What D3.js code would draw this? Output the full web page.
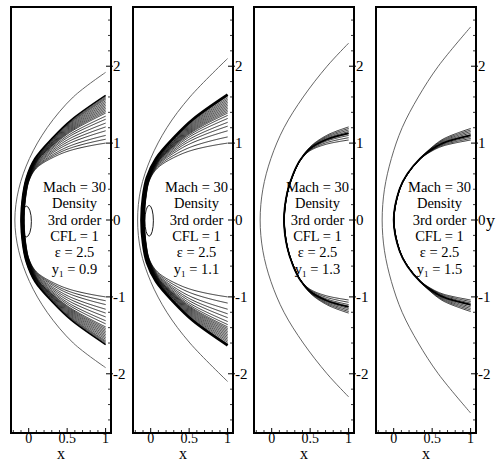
<!DOCTYPE html>
<html><head><meta charset="utf-8">
<script src="https://cdn.jsdelivr.net/npm/d3@7"></script>
<style>body{margin:0;background:#fff} text{font-family:"Liberation Serif","Times New Roman","DejaVu Serif",serif;}</style>
</head><body><svg id="c" width="496" height="464" xmlns="http://www.w3.org/2000/svg"></svg>
<script>
// ---------------- data ----------------
const y1Labels = ["0.9", "1.1", "1.3", "1.5"];
const annotationLines = ["Mach = 30", "Density", "3rd order", "CFL = 1", "\u03b5 = 2.5"];
const xTicks = [0, 0.5, 1];
const xTickLabels = ["0", "0.5", "1"];
const xMinorTicks = [-0.2, -0.1, 0.1, 0.2, 0.3, 0.4, 0.6, 0.7, 0.8, 0.9];
const yTicks = [-2, -1, 0, 1, 2];
const yTickLabels = ["-2", "-1", "0", "1", "2"];
const yMinorTicks = [-2.6,-2.4,-2.2,-1.8,-1.6,-1.4,-1.2,-0.8,-0.6,-0.4,-0.2,0.2,0.4,0.6,0.8,1.2,1.4,1.6,1.8,2.2,2.4,2.6];

// outer thin curve, upper half [x, y]
const outerP1 = [[-0.18,0],[-0.13,0.4],[0.01,0.8],[0.24,1.2],[0.58,1.6],[1.0,1.92]];
const outerP2 = [[-0.17,0],[-0.13,0.4],[0.0,0.8],[0.21,1.2],[0.51,1.6],[1.0,2.1]];
const outerP3 = [[-0.15,0],[-0.115,0.4],[-0.01,0.8],[0.16,1.2],[0.41,1.6],[0.72,2.0],[1.0,2.3]];
const outerP4 = [[-0.15,0],[-0.12,0.4],[-0.03,0.8],[0.11,1.2],[0.32,1.6],[0.58,2.0],[1.0,2.51]];

// main (shock / thick) curve, upper half [x, y]
const shockP1 = [[-0.10,0],[-0.08,0.3],[-0.03,0.55],[0.08,0.8],[0.32,1.08],[0.55,1.3],[1.0,1.62]];
const shockP2 = [[-0.12,0],[-0.10,0.3],[-0.05,0.55],[0.07,0.8],[0.31,1.08],[0.55,1.31],[1.0,1.63]];
const shockP3 = [[0.16,0],[0.20,0.35],[0.28,0.6],[0.37,0.78],[0.50,0.93],[0.72,1.05],[1.0,1.13]];
const shockP4 = [[0.0,0],[0.075,0.4],[0.178,0.6],[0.345,0.8],[0.468,0.9],[0.642,1.0],[1.0,1.1]];

// y where each density contour leaves the right edge (x = 1)
const endsP1 = [1.60,1.585,1.57,1.55,1.53,1.51,1.49,1.47,1.45,1.43,1.41,1.39,1.35,1.31,1.26,1.21,1.16,1.10,1.05,1.0];
const endsP2 = [1.61,1.59,1.57,1.55,1.53,1.51,1.49,1.47,1.45,1.43,1.41,1.39,1.36,1.32,1.27,1.22,1.16,1.08,1.0];
const endsP3 = [1.21,1.19,1.17,1.15,1.12,1.10,1.07,1.04];
const endsP4 = [1.19,1.17,1.15,1.13,1.11,1.08,1.06,1.04];

// small closed contour near the nose [cx, cy, rx, ry] (panels 1,2)
const ovalP1 = [-0.03, -0.02, 0.065, 0.2];
const ovalP2 = [-0.02, -0.01, 0.055, 0.2];

const outers = [outerP1, outerP2, outerP3, outerP4];
const shocks = [shockP1, shockP2, shockP3, shockP4];
const ends = [endsP1, endsP2, endsP3, endsP4];
const ovals = [ovalP1, ovalP2, null, null];
const fanStart = [0.26, 0.26, 0.7, 0.7];
const fanPow = [1.6, 1.6, 1.5, 1.5];
const noseSpread = [0.16, 0.16, 0.05, 0.05];
const shockWidth = [1.6, 2.6, 1.8, 1.8];

// ---------------- layout ----------------
const panelLeft = [11, 133, 254, 376];
const panelW = 100, frameTop = 7, frameBottom = 433;
const xDomain = [-0.23, 1.07], yDomain = [-2.77, 2.77];

const svg = d3.select("#c");
svg.append("rect").attr("width",496).attr("height",464).attr("fill","#fff");

const full = pts => {
  const up = pts.map(d => [d[0], d[1]]);
  const lo = pts.slice(1).map(d => [d[0], -d[1]]).reverse();
  return lo.concat(up);
};

panelLeft.forEach((L, p) => {
  const x = d3.scaleLinear().domain(xDomain).range([L, L + panelW]);
  const y = d3.scaleLinear().domain(yDomain).range([frameBottom, frameTop]);
  const g = svg.append("g");
  const clipId = "clip" + p;
  svg.append("clipPath").attr("id", clipId).append("rect")
    .attr("x", L).attr("y", frameTop).attr("width", panelW).attr("height", frameBottom - frameTop);
  const gc = g.append("g").attr("clip-path", `url(#${clipId})`);

  const line = d3.line().x(d => x(d[0])).y(d => y(d[1])).curve(d3.curveCatmullRom.alpha(0.5));

  // outer thin curve
  gc.append("path").attr("d", line(full(outers[p])))
    .attr("fill","none").attr("stroke","#555").attr("stroke-width",0.9);

  // main curve, sampled to build the contour family
  const sPath = gc.append("path").attr("d", line(full(shocks[p])))
    .attr("fill","none").attr("stroke","#000").attr("stroke-width", shockWidth[p]);
  const node = sPath.node();
  const len = node.getTotalLength();
  const N = 260;
  const samples = d3.range(N + 1).map(i => {
    const pt = node.getPointAtLength(len * i / N);
    return [pt.x, pt.y];
  });
  const yEnd = shocks[p][shocks[p].length - 1][1];
  const contourLine = d3.line().curve(d3.curveLinear);

  ends[p].forEach((e, i) => {
    const pts = samples.map((s, k) => {
      const a = samples[Math.max(0, k - 1)], b = samples[Math.min(N, k + 1)];
      let tx = b[0] - a[0], ty = b[1] - a[1];
      const tl = Math.hypot(tx, ty) || 1; tx /= tl; ty /= tl;
      const nx = -ty, ny = tx;
      const ys = y.invert(s[1]);
      const t = Math.min(1, Math.abs(ys) / yEnd);
      const w = Math.pow(Math.max(0, (t - fanStart[p]) / (1 - fanStart[p])), fanPow[p]);
      const sign = ys >= 0 ? 1 : -1;
      const shift = y(sign * e) - y(sign * yEnd);
      const b0 = noseSpread[p] * (i + 1) * (1 - w);
      return [s[0] + b0 * nx, s[1] + b0 * ny + w * shift];
    });
    gc.append("path").attr("d", contourLine(pts))
      .attr("fill","none").attr("stroke","#000").attr("stroke-width",0.8);
  });

  if (ovals[p]) {
    const o = ovals[p];
    gc.append("ellipse").attr("cx", x(o[0])).attr("cy", y(o[1]))
      .attr("rx", x(o[2]) - x(0)).attr("ry", y(0) - y(o[3]))
      .attr("fill","none").attr("stroke","#000").attr("stroke-width",0.9);
  }

  // annotation
  const tx = L + 63.5;
  const base0 = 192, step = 16.3;
  annotationLines.forEach((s, i) => {
    g.append("text").attr("x", tx).attr("y", base0 + i * step)
      .attr("text-anchor","middle").attr("font-size", 14.5)
      .text(s);
  });
  const yt = g.append("text").attr("x", tx).attr("y", base0 + 5 * step)
    .attr("text-anchor","middle").attr("font-size", 14.5);
  yt.append("tspan").text("y");
  yt.append("tspan").attr("font-size", 9).attr("dy", 3).text("1");
  yt.append("tspan").attr("dy", -3).text(" = " + y1Labels[p]);

  // frame
  g.append("rect").attr("x", L).attr("y", frameTop).attr("width", panelW).attr("height", frameBottom - frameTop)
    .attr("fill","none").attr("stroke","#000").attr("stroke-width",2);

  // right axis ticks
  yMinorTicks.forEach(v => {
    g.append("line").attr("x1", L + panelW - 3).attr("x2", L + panelW)
      .attr("y1", y(v)).attr("y2", y(v)).attr("stroke","#000").attr("stroke-width",0.8);
  });
  yTicks.forEach((v, i) => {
    g.append("line").attr("x1", L + panelW - 5).attr("x2", L + panelW + 2)
      .attr("y1", y(v)).attr("y2", y(v)).attr("stroke","#000").attr("stroke-width",1);
    g.append("text").attr("x", L + panelW + 2).attr("y", y(v) + 5)
      .attr("font-size", 15).text(yTickLabels[i]);
  });

  // bottom axis ticks
  xMinorTicks.forEach(v => {
    g.append("line").attr("x1", x(v)).attr("x2", x(v))
      .attr("y1", frameBottom).attr("y2", frameBottom - 3).attr("stroke","#000").attr("stroke-width",0.8);
  });
  xTicks.forEach((v, i) => {
    g.append("line").attr("x1", x(v)).attr("x2", x(v))
      .attr("y1", frameBottom).attr("y2", frameBottom - 5).attr("stroke","#000").attr("stroke-width",1);
    g.append("text").attr("x", x(v)).attr("y", 443).attr("text-anchor","middle")
      .attr("font-size", 14).text(xTickLabels[i]);
  });
  g.append("text").attr("x", L + 50).attr("y", 459).attr("text-anchor","middle")
    .attr("font-size", 16).text("x");
});

svg.append("text").attr("x", 486).attr("y", 227).attr("font-size", 18).text("y");
</script>
</body></html>
